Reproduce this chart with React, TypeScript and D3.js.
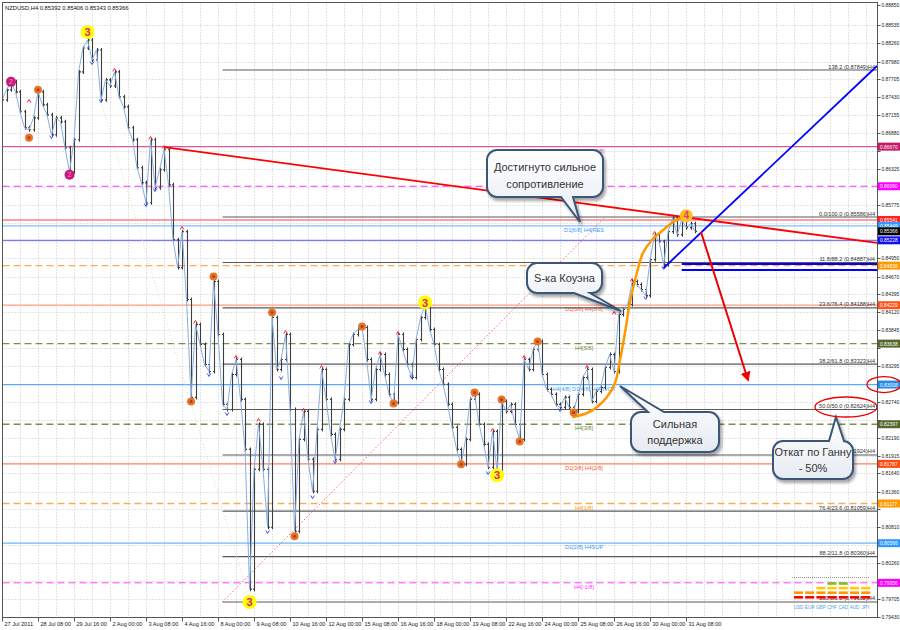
import React from "react";
import * as d3 from "d3";

const W = 900;
const H = 630;

// x axis: one label every 8 H4 bars
const timeLabels = [
  "27 Jul 2011", "28 Jul 08:00", "29 Jul 16:00", "2 Aug 00:00", "3 Aug 08:00",
  "4 Aug 16:00", "8 Aug 00:00", "9 Aug 08:00", "10 Aug 16:00", "12 Aug 00:00",
  "15 Aug 08:00", "16 Aug 16:00", "18 Aug 00:00", "19 Aug 08:00", "22 Aug 16:00",
  "24 Aug 00:00", "25 Aug 08:00", "26 Aug 16:00", "30 Aug 00:00", "31 Aug 08:00",
];

const priceTicks = [
  0.8885, 0.88535, 0.8826, 0.8798, 0.87705, 0.8743, 0.87155, 0.8688, 0.86605,
  0.86325, 0.8605, 0.85775, 0.855, 0.85225, 0.8495, 0.8467, 0.84395, 0.8412,
  0.83845, 0.8357, 0.83295, 0.83015, 0.8274, 0.82465, 0.8219, 0.81915, 0.8164,
  0.8136, 0.81085, 0.8081, 0.80535, 0.8026, 0.7998, 0.79705, 0.7943,
];

// NZDUSD H4 closes, 27 Jul 00:00 .. 31 Aug 16:00
const closes = [
  0.8739, 0.87544, 0.87667, 0.87513, 0.87206, 0.8696, 0.86929, 0.87113, 0.87513, 0.87313,
  0.87159, 0.86852, 0.87113, 0.87052, 0.86652, 0.86283, 0.86775, 0.8782, 0.88189, 0.88312,
  0.88005, 0.88158, 0.8739, 0.87697, 0.87605, 0.8782, 0.87436, 0.87282, 0.8696, 0.86775,
  0.86345, 0.86114, 0.85807, 0.86775, 0.86037, 0.86314, 0.86621, 0.86084, 0.85238, 0.84808,
  0.85361, 0.84316, 0.8281, 0.83932, 0.83624, 0.83317, 0.83209, 0.84593, 0.83778, 0.82702,
  0.82625, 0.83163, 0.83394, 0.82779, 0.8201, 0.79859, 0.81703, 0.82395, 0.81703, 0.80812,
  0.84039, 0.8324, 0.83394, 0.83778, 0.82625, 0.8075, 0.82164, 0.82595, 0.81857, 0.81365,
  0.82318, 0.8324, 0.82779, 0.82241, 0.81857, 0.82318, 0.82779, 0.83624, 0.83778, 0.83855,
  0.83886, 0.83394, 0.82779, 0.8324, 0.83471, 0.83163, 0.82856, 0.82733, 0.83778, 0.83547,
  0.83317, 0.83117, 0.83701, 0.84039, 0.84239, 0.83855, 0.83624, 0.8324, 0.8301, 0.82702,
  0.82349, 0.8201, 0.8178, 0.82164, 0.82779, 0.82856, 0.82395, 0.82087, 0.81734, 0.82287,
  0.81672, 0.82748, 0.82595, 0.82702, 0.82395, 0.82164, 0.83394, 0.8324, 0.83547, 0.8367,
  0.83163, 0.82933, 0.82856, 0.82702, 0.82656, 0.8281, 0.82656, 0.82595, 0.82856, 0.83117,
  0.8324, 0.82748, 0.82902, 0.82963, 0.83271, 0.83471, 0.83209, 0.84085, 0.84162, 0.84239,
  0.84593, 0.84547, 0.8447, 0.84377, 0.84931, 0.85315, 0.85207, 0.84854, 0.85361, 0.85576,
  0.85315, 0.85546, 0.85423, 0.85484, 0.85366,
];

// Murrey math levels
const murrayPrices = [
  0.8667, 0.8606, 0.85541, 0.85449, 0.85228, 0.84839, 0.84229, 0.83638, 0.83008,
  0.82397, 0.81787, 0.81177, 0.80566, 0.79956,
];
const murrayLabels = [
  "D1[7/8] H4[+2/8]", "", "", "D1[6/8] H4[RES", "", "", "D1[5/8] H4[8/8]", "H4[5/8]",
  "H4[4/8] D1[4/8] H4PIVOT", "H4[3/8]", "D1[3/8] H4[2/8]", "H4[1/8]", "D1[2/8] H4SUP", "H4[-1/8]",
];
const murrayStyle = [
  { line: "#d8589a", box: "#c8186a", text: "#c04888", dash: "" },
  { line: "#ff30ff", box: "#ff00ff", text: "#e020e0", dash: "7 4" },
  { line: "#ff8080", box: "#ff2020", text: "#ff4040", dash: "" },
  { line: "#80bbff", box: "#3399ff", text: "#3399ff", dash: "" },
  { line: "#7a78ff", box: "#1010f0", text: "#3030ff", dash: "" },
  { line: "#ffaa50", box: "#ff9900", text: "#ff9900", dash: "7 4" },
  { line: "#ff9a80", box: "#ff5418", text: "#f06030", dash: "" },
  { line: "#7d8f4e", box: "#56682a", text: "#6b7f3a", dash: "7 4" },
  { line: "#5aa8ff", box: "#2a8ae8", text: "#3a9af0", dash: "" },
  { line: "#7d8f4e", box: "#56682a", text: "#6b7f3a", dash: "7 4" },
  { line: "#ff8060", box: "#ff4a10", text: "#f06030", dash: "" },
  { line: "#ffaa50", box: "#ff9900", text: "#ff9900", dash: "7 4" },
  { line: "#6ab4ff", box: "#3399ff", text: "#3399ff", dash: "" },
  { line: "#ff40ff", box: "#ff00ff", text: "#ff30ff", dash: "7 4" },
];
const lastPrice = 0.85366;

// Fibonacci retracement (anchored 8 Aug low -> 31 Aug high)
const fibPrices = [
  0.87849, 0.85586, 0.84887, 0.84188, 0.83323, 0.82624, 0.81924, 0.81059, 0.8036, 0.79662,
];
const fibNames = [
  "138.2", "0.0/100.0", "11.8/88.2", "23.6/76.4", "38.2/61.8", "50.0/50.0",
  "61.8/38.2", "76.4/23.6", "88.2/11.8", "100.0/0.0",
];
const fibStartBar = 49;
const fibDiagonal: [number, number][] = [[49, 0.79662], [134, 0.85586]];

// zigzag pivots [bar, price]
const pivotsOrange: [number, number][] = [
  [6, 0.86806], [8, 0.87544], [42, 0.82748], [47, 0.8467], [60, 0.84116], [65, 0.80673],
  [80, 0.83901], [87, 0.82717], [102, 0.8178], [105, 0.82887], [111, 0.82779], [115, 0.82133],
  [119, 0.8367], [127, 0.82579],
];
const pivotsPink: [number, number][] = [[2, 0.87667], [15, 0.86237]];
const pivotsYellow: [number, number][] = [[19, 0.88435], [55, 0.79659], [94, 0.8427], [110, 0.81611]];
const pivotFour: [number, number] = [152, 0.85607];
const fractalUp: [number, number][] = [
  [6, 0.87372], [25, 0.8785], [33, 0.86803], [36, 0.86664], [40, 0.85418], [43, 0.83971],
  [52, 0.83432], [57, 0.82462], [63, 0.83817], [67, 0.82617], [71, 0.83278], [84, 0.83494],
  [88, 0.83801], [109, 0.82308], [116, 0.83432], [130, 0.83278], [136, 0.84109], [140, 0.84617],
  [145, 0.85341],
];
const fractalDown: [number, number][] = [
  [11, 0.86818], [20, 0.87957], [22, 0.87372], [32, 0.85772], [34, 0.86003], [46, 0.83155],
  [50, 0.82555], [59, 0.80739], [62, 0.83109], [69, 0.81277], [74, 0.81816], [82, 0.82739],
  [91, 0.83124], [108, 0.81647], [124, 0.82616], [143, 0.8434], [147, 0.84802],
];

// hand drawn objects [bar, price]
const redTrend: [number, number][] = [[36, 0.86664], [194.4, 0.85187]];
const blueTrend: [number, number][] = [[147, 0.84802], [194.4, 0.87911]];
const blueLevels = [0.84863, 0.84771];
const blueLevelStart = 151;
const redArrow: [number, number][] = [[155.3, 0.85356], [165.6, 0.83109]];
const faintLine: [number, number][] = [[22, 0.87357], [55, 0.79692]];
const sCurve: [number, number][] = [
  [126.9, 0.82509], [130, 0.8257], [132.2, 0.82663], [134.4, 0.82817], [136.2, 0.83032],
  [137.3, 0.83386], [138.4, 0.83802], [139.6, 0.8431], [141.1, 0.8474], [142.4, 0.85033],
  [144.4, 0.85233], [146.9, 0.85387], [149.1, 0.8551], [151.3, 0.85587],
];

// currency strength widget
const ccyNames = ["USD", "EUR", "GBP", "CHF", "CAD", "AUD", "JPY"];
const ccyLevels = [2, 2, 3, 4, 4, 3, 3];
const strengthColors = ["#ff0000", "#ff9900", "#ffcc00", "#88bb22"];

const FONT = "'Liberation Sans', Arial, sans-serif";

type Callout = {
  x: number; y: number; w: number; h: number; side: "top" | "bottom";
  b1: number; b2: number; tx: number; ty: number; lines: string[]; base: number[];
};

const callouts: Callout[] = [
  { x: 487, y: 150, w: 116, h: 47, side: "bottom", b1: 561, b2: 573, tx: 580, ty: 222,
    lines: ["Достигнуто сильное", "сопротивление"], base: [171, 188] },
  { x: 527, y: 263, w: 75, h: 30, side: "bottom", b1: 574, b2: 590, tx: 621, ty: 311,
    lines: ["S-ка Коуэна"], base: [282] },
  { x: 631, y: 412, w: 88, h: 40, side: "top", b1: 648, b2: 664, tx: 620, ty: 386,
    lines: ["Сильная", "поддержка"], base: [428, 444] },
  { x: 773, y: 441, w: 80, h: 38, side: "top", b1: 829, b2: 844, tx: 836, ty: 417,
    lines: ["Откат по Ганну", "- 50%"], base: [456, 472] },
];

function calloutPath(c: Callout): string {
  const r = 10;
  const { x, y, w, h } = c;
  const top =
    c.side === "top"
      ? `M${x + r},${y} H${c.b1} L${c.tx},${c.ty} L${c.b2},${y} H${x + w - r}`
      : `M${x + r},${y} H${x + w - r}`;
  const bottom =
    c.side === "bottom"
      ? `H${c.b2} L${c.tx},${c.ty} L${c.b1},${y + h} H${x + r}`
      : `H${x + r}`;
  return (
    top +
    ` A${r},${r} 0 0 1 ${x + w},${y + r} V${y + h - r} A${r},${r} 0 0 1 ${x + w - r},${y + h} ` +
    bottom +
    ` A${r},${r} 0 0 1 ${x},${y + h - r} V${y + r} A${r},${r} 0 0 1 ${x + r},${y} Z`
  );
}

const App: React.FC = () => {
  const x = d3.scaleLinear().domain([0, 194.4]).range([2, 877]);
  const y = d3.scaleLinear().domain([0.7943, 0.8885]).range([617, 5]);
  const left = 2.5, right = 877.5, top = 2.5, bottom = 617.5;

  const lineGen = d3
    .line<number>()
    .x((_, i) => x(i))
    .y((d) => y(d));
  const segLine = d3
    .line<[number, number]>()
    .x((d) => x(d[0]))
    .y((d) => y(d[1]));
  const curve = d3
    .line<[number, number]>()
    .x((d) => x(d[0]))
    .y((d) => y(d[1]))
    .curve(d3.curveCatmullRom.alpha(0.5));

  const gridBars = d3.range(4, 195, 4);
  // price labels hidden under a coloured level box are not drawn
  const boxYs = [...murrayPrices, lastPrice].map((p) => y(p));
  const visibleTicks = priceTicks.filter((p) => boxYs.every((by) => Math.abs(by - y(p)) > 6));

  return (
    <svg
      width={W}
      height={H}
      viewBox={`0 0 ${W} ${H}`}
      style={{ position: "absolute", left: 0, top: 0, background: "#fff", fontFamily: FONT }}
    >
      <defs>
        <marker id="arrowRed" viewBox="0 0 10 10" refX="6" refY="5" markerWidth="5" markerHeight="5" orient="auto">
          <path d="M0,0 L10,5 L0,10 z" fill="#ee0000" />
        </marker>
        <linearGradient id="callFill" x1="0" y1="0" x2="0" y2="1">
          <stop offset="0" stopColor="#ffffff" />
          <stop offset="1" stopColor="#e6ebf2" />
        </linearGradient>
        <filter id="shadow" x="-20%" y="-20%" width="140%" height="160%">
          <feGaussianBlur in="SourceAlpha" stdDeviation="1.5" />
          <feOffset dx="2" dy="3" result="b" />
          <feComponentTransfer>
            <feFuncA type="linear" slope="0.35" />
          </feComponentTransfer>
          <feMerge>
            <feMergeNode />
            <feMergeNode in="SourceGraphic" />
          </feMerge>
        </filter>
        <clipPath id="plot">
          <rect x={left} y={top} width={right - left} height={bottom - top} />
        </clipPath>
      </defs>

      {/* grid */}
      <g stroke="#c9c9c9" strokeWidth={1} strokeDasharray="1 2">
        {gridBars.map((b) => (
          <line key={`gv${b}`} x1={Math.round(x(b)) + 0.5} x2={Math.round(x(b)) + 0.5} y1={top} y2={bottom} />
        ))}
        {priceTicks.slice(1, -1).map((p) => (
          <line key={`gh${p}`} x1={left} x2={right} y1={Math.round(y(p)) + 0.5} y2={Math.round(y(p)) + 0.5} />
        ))}
      </g>

      <g clipPath="url(#plot)">
        {/* murrey lines */}
        {murrayPrices.map((p, i) => (
          <line
            key={`m${i}`}
            x1={left}
            x2={right}
            y1={y(p)}
            y2={y(p)}
            stroke={murrayStyle[i].line}
            strokeWidth={i === 1 || i === 13 ? 1 : 1.3}
            strokeDasharray={murrayStyle[i].dash || undefined}
          />
        ))}
        {murrayLabels.map((t, i) =>
          t ? (
            <text key={`ml${i}`} x={584} y={y(murrayPrices[i]) + 6} fontSize={5.6} textAnchor="middle" fill={murrayStyle[i].text}>
              {t}
            </text>
          ) : null
        )}

        {/* fibonacci */}
        <path d={segLine(fibDiagonal) || ""} stroke="#ff6a6a" strokeWidth={1} strokeDasharray="1.5 2" fill="none" />
        {fibPrices.map((p, i) => (
          <g key={`f${i}`}>
            <line x1={x(fibStartBar)} x2={right} y1={y(p)} y2={y(p)} stroke="#5a5a5a" strokeWidth={1.1} />
            <text x={875} y={y(p) - 1.5} fontSize={5.6} textAnchor="end" fill="#333">
              {`${fibNames[i]} (${p.toFixed(5)})H4`}
            </text>
          </g>
        ))}

        <path d={segLine(faintLine) || ""} stroke="#f1d6b8" strokeWidth={1} strokeDasharray="1 2" fill="none" />

        {/* bars */}
        <g stroke="#3e3e3e" strokeWidth={1.1}>
          {closes.map((c, i) => {
            const o = i === 0 ? c : closes[i - 1];
            const xi = Math.round(x(i)) + 0.5;
            return (
              <g key={`b${i}`}>
                <line x1={xi} x2={xi} y1={y(Math.max(o, c)) - 2} y2={y(Math.min(o, c)) + 2} />
                <line x1={xi - 1.5} x2={xi} y1={y(o)} y2={y(o)} />
                <line x1={xi} x2={xi + 1.5} y1={y(c)} y2={y(c)} />
              </g>
            );
          })}
        </g>
        <path d={lineGen(closes) || ""} fill="none" stroke="#86aee0" strokeWidth={1} />

        {/* fractal arrows */}
        {fractalUp.map(([b, p], i) => (
          <path key={`fu${i}`} d={`M${x(b) - 1.8},${y(p) + 1.5} L${x(b)},${y(p) - 1.5} L${x(b) + 1.8},${y(p) + 1.5}`} stroke="#ff2030" strokeWidth={1} fill="none" />
        ))}
        {fractalDown.map(([b, p], i) => (
          <path key={`fd${i}`} d={`M${x(b) - 1.8},${y(p) - 1.5} L${x(b)},${y(p) + 1.5} L${x(b) + 1.8},${y(p) - 1.5}`} stroke="#3050ff" strokeWidth={1} fill="none" />
        ))}

        {/* trend objects */}
        <path d={segLine(redTrend) || ""} stroke="#ff0000" strokeWidth={1.8} fill="none" />
        <path d={segLine(blueTrend) || ""} stroke="#0000ff" strokeWidth={1.8} fill="none" />
        {blueLevels.map((p) => (
          <line key={`bl${p}`} x1={x(blueLevelStart)} x2={right} y1={y(p)} y2={y(p)} stroke="#0000ff" strokeWidth={2} />
        ))}
        <path d={segLine(redArrow) || ""} stroke="#ee0000" strokeWidth={2} fill="none" markerEnd="url(#arrowRed)" />
        <path d={curve(sCurve) || ""} stroke="#ff9900" strokeWidth={2.5} fill="none" strokeLinecap="round" />

        {/* zigzag pivots */}
        {pivotsOrange.map(([b, p], i) => (
          <g key={`po${i}`}>
            <circle cx={x(b)} cy={y(p)} r={4} fill="#e8742a" />
            <circle cx={x(b)} cy={y(p)} r={1.5} fill="#b04010" />
          </g>
        ))}
        {pivotsPink.map(([b, p], i) => (
          <g key={`pp${i}`}>
            <circle cx={x(b)} cy={y(p)} r={5} fill="#c81878" />
            <text x={x(b)} y={y(p) + 2.5} fontSize={7} textAnchor="middle" fill="#ff8fcf">2</text>
          </g>
        ))}
        {pivotsYellow.map(([b, p], i) => (
          <g key={`py${i}`}>
            <circle cx={x(b)} cy={y(p)} r={7} fill="#ffff00" />
            <text x={x(b)} y={y(p) + 4} fontSize={11} fontWeight="bold" textAnchor="middle" fill="#e0207a">3</text>
          </g>
        ))}
        <circle cx={x(pivotFour[0])} cy={y(pivotFour[1])} r={6.5} fill="#ffbf20" />
        <text x={x(pivotFour[0])} y={y(pivotFour[1]) + 3.5} fontSize={10} fontWeight="bold" textAnchor="middle" fill="#e04070">4</text>
      </g>

      {/* callouts */}
      {callouts.map((c, i) => (
        <g key={`c${i}`}>
          <path d={calloutPath(c)} fill="url(#callFill)" stroke="#3b5677" strokeWidth={2} filter="url(#shadow)" />
          {c.lines.map((t, k) => (
            <text key={k} x={c.x + c.w / 2} y={c.base[k]} fontSize={11} textAnchor="middle" fill="#333">
              {t}
            </text>
          ))}
        </g>
      ))}
      <ellipse cx={846} cy={407} rx={31} ry={10} fill="none" stroke="#ee0000" strokeWidth={1.3} />

      {/* currency strength widget */}
      <line x1={792} x2={870} y1={577.5} y2={577.5} stroke="#999" strokeDasharray="1 1" />
      {ccyNames.map((n, k) => (
        <g key={n}>
          {d3.range(ccyLevels[k]).map((lv) => (
            <rect key={lv} x={794 + k * 11.2} y={596 - lv * 4.6} width={9} height={2.6} fill={strengthColors[lv]} />
          ))}
          <text x={798.5 + k * 11.2} y={609} fontSize={4.6} textAnchor="middle" fill="#4a9fe0">{n}</text>
        </g>
      ))}

      {/* frame */}
      <rect x={left} y={top} width={right - left} height={bottom - top} fill="none" stroke="#555" strokeWidth={1} />

      {/* title */}
      <text x={5} y={10} fontSize={5.8} fill="#111">NZDUSD,H4  0.85392 0.85406 0.85343 0.85366</text>

      {/* time axis */}
      {timeLabels.map((t, k) => {
        const xi = Math.round(x(k * 8)) + 0.5;
        return (
          <g key={t}>
            <line x1={xi} x2={xi} y1={bottom} y2={bottom + 4} stroke="#555" />
            <text x={xi + 2} y={626} fontSize={5.6} fill="#222">{t}</text>
          </g>
        );
      })}

      {/* price axis */}
      {priceTicks.map((p) => (
        <line key={`pk${p}`} x1={right} x2={right + 3} y1={Math.round(y(p)) + 0.5} y2={Math.round(y(p)) + 0.5} stroke="#555" />
      ))}
      {visibleTicks.map((p) => (
        <text key={`pt${p}`} x={881.5} y={y(p) + 2} fontSize={4.9} fill="#222">
          {p.toFixed(5)}
        </text>
      ))}
      {murrayPrices.map((p, i) => (
        <g key={`pb${i}`}>
          <rect x={878} y={y(p) - 4} width={22} height={8} fill={murrayStyle[i].box} />
          <text x={880} y={y(p) + 2} fontSize={4.9} fill="#fff">
            {p.toFixed(5)}
          </text>
        </g>
      ))}
      <rect x={878} y={y(lastPrice) - 4} width={22} height={8} fill="#000" />
      <text x={880} y={y(lastPrice) + 2} fontSize={4.9} fill="#fff">
        {lastPrice.toFixed(5)}
      </text>
      <ellipse cx={884} cy={y(murrayPrices[8])} rx={17} ry={8} fill="none" stroke="#ee0000" strokeWidth={1.3} />
    </svg>
  );
};

export default App;
